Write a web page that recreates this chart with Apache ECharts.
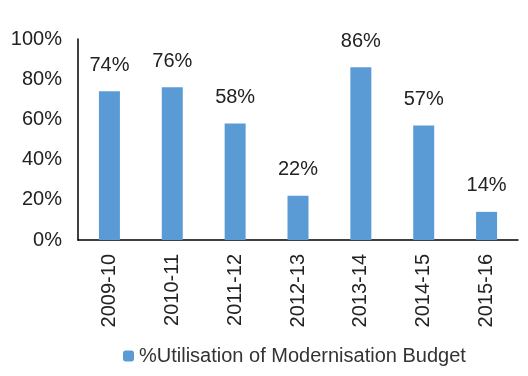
<!DOCTYPE html>
<html>
<head>
<meta charset="utf-8">
<script src="https://cdn.jsdelivr.net/npm/echarts@6/dist/echarts.min.js"></script>
<style>
  html, body { margin: 0; padding: 0; background: #fff; }
  #chart { width: 528px; height: 376px; }
</style>
</head>
<body>
<div id="chart"></div>
<script>
const categories = ['2009-10', '2010-11', '2011-12', '2012-13', '2013-14', '2014-15', '2015-16'];
const utilisation = [74, 76, 58, 22, 86, 57, 14];
const seriesName = '%Utilisation of Modernisation Budget';

const font = '"Liberation Sans", Arial, sans-serif';
const chart = echarts.init(document.getElementById('chart'));
chart.setOption({
  animation: false,
  textStyle: { fontFamily: font },
  grid: { left: 78, right: 10, top: 39, bottom: 136 },
  legend: {
    data: [seriesName],
    top: 341,
    left: 118,
    itemWidth: 11,
    itemHeight: 11,
    itemGap: 6,
    textStyle: { fontSize: 20, color: '#333', fontFamily: font }
  },
  xAxis: {
    type: 'category',
    data: categories,
    axisLine: { lineStyle: { color: '#000', width: 1.5 } },
    axisTick: { show: false },
    axisLabel: { rotate: 90, fontSize: 20, color: '#222', margin: 14, fontFamily: font }
  },
  yAxis: {
    type: 'value',
    min: 0,
    max: 100,
    interval: 20,
    splitLine: { show: false },
    axisLine: { show: true, lineStyle: { color: '#000', width: 1.5 } },
    axisTick: { show: false },
    axisLabel: { formatter: '{value}%', fontSize: 20, color: '#222', margin: 16, fontFamily: font }
  },
  series: [{
    name: seriesName,
    type: 'bar',
    data: utilisation,
    barWidth: 21,
    itemStyle: { color: '#5B9BD5' },
    label: {
      show: true,
      position: 'top',
      distance: 16,
      formatter: '{c}%',
      fontSize: 20,
      color: '#222',
      fontFamily: font
    }
  }]
});
</script>
</body>
</html>
